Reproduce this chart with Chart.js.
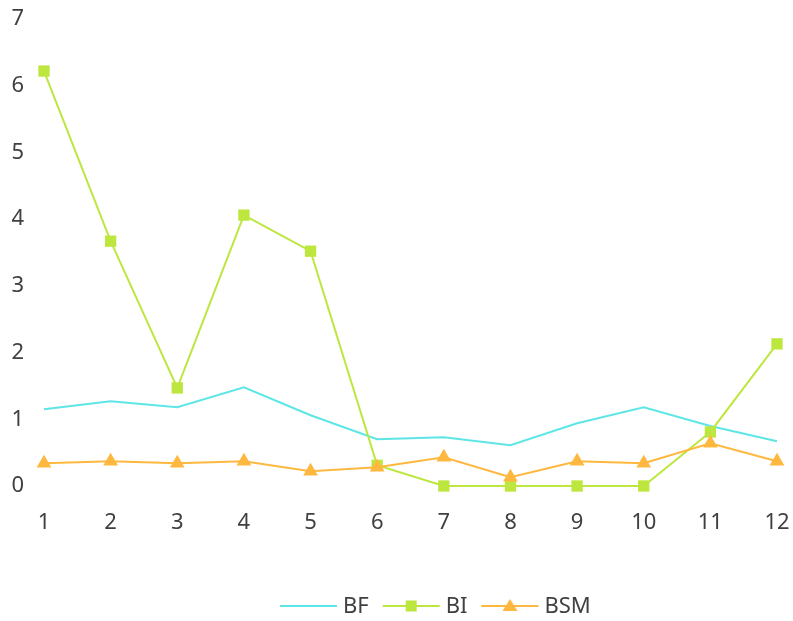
<!DOCTYPE html>
<html><head><meta charset="utf-8">
<script src="https://cdn.jsdelivr.net/npm/chart.js@4"></script>
<style>html,body{margin:0;padding:0;background:#fff}#wrap{width:793px;height:621px}</style>
</head><body><div id="wrap"><canvas id="c" width="793" height="621"></canvas></div>
<script>
const categories = ['1','2','3','4','5','6','7','8','9','10','11','12'];
const seriesNames = ['BF','BI','BSM'];
const bf  = [1.15,1.27,1.18,1.48,1.06,0.70,0.73,0.61,0.94,1.18,0.90,0.67];
const bi  = [6.22,3.67,1.47,4.06,3.52,0.31,0,0,0,0,0.81,2.13];
const bsm = [0.34,0.37,0.34,0.37,0.22,0.28,0.43,0.13,0.37,0.34,0.64,0.37];
const yTicks = [0,1,2,3,4,5,6,7];

const colors = ['#5EE6E6','#BDE63F','#FFB83F'];
const styles = [null,'rect','triangle'];
const FONT = '"Noto Sans", "Open Sans", sans-serif';
const TXT = '#404040';

const customLegend = {
  id:'customLegend',
  afterDraw(chart){
    const g = chart.ctx;
    g.save();
    g.font = '22px ' + FONT;
    g.textBaseline = 'middle';
    g.textAlign = 'left';
    const y = 606;
    let x = 280;
    seriesNames.forEach((name,i)=>{
      const c = colors[i];
      g.strokeStyle = c; g.lineWidth = 2;
      g.beginPath(); g.moveTo(x, y); g.lineTo(x+57, y); g.stroke();
      g.fillStyle = c;
      const cx = x + 28.5;
      if(styles[i]==='rect'){ g.fillRect(cx-5.5, y-5.5, 11, 11); }
      else if(styles[i]==='triangle'){ g.beginPath(); g.moveTo(cx, y-7); g.lineTo(cx+7.5, y+5); g.lineTo(cx-7.5, y+5); g.closePath(); g.fill(); }
      x += 57 + 6;
      g.fillStyle = TXT;
      g.fillText(name, x, y+1);
      x += g.measureText(name).width + 14;
    });
    g.restore();
  }
};

new Chart(document.getElementById('c'),{
  type:'line',
  data:{labels:categories,datasets:[
    {label:seriesNames[0],data:bf,borderColor:colors[0],backgroundColor:colors[0],borderWidth:2,pointRadius:0,tension:0,order:3,clip:false},
    {label:seriesNames[1],data:bi,borderColor:colors[1],backgroundColor:colors[1],borderWidth:2,pointStyle:'rect',pointRadius:8,pointBorderWidth:0,tension:0,order:2,clip:false},
    {label:seriesNames[2],data:bsm,borderColor:colors[2],backgroundColor:colors[2],borderWidth:2,pointStyle:'triangle',pointRadius:8.5,pointBorderWidth:0,tension:0,order:1,clip:false}
  ]},
  plugins:[customLegend],
  options:{
    responsive:false,animation:false,
    layout:{padding:{top:19,right:16,left:0,bottom:75}},
    plugins:{ tooltip:{enabled:false}, legend:{display:false} },
    scales:{
      x:{offset:false,grid:{display:false,drawTicks:false},border:{display:false},
        afterFit:(s)=>{s.height=60;s.paddingLeft=0;s.paddingRight=0;},
        ticks:{color:TXT,font:{family:FONT,size:22},padding:24,maxRotation:0,autoSkip:false}},
      y:{min:0,max:7,grid:{display:false,drawTicks:false},border:{display:false},
        afterFit:(s)=>{s.width=44;s.paddingTop=0;s.paddingBottom=0;},
        afterBuildTicks:(s)=>{s.ticks=yTicks.map(v=>({value:v}));},
        ticks:{color:TXT,font:{family:FONT,size:22},padding:20}}
    }
  }
});
</script></body></html>
